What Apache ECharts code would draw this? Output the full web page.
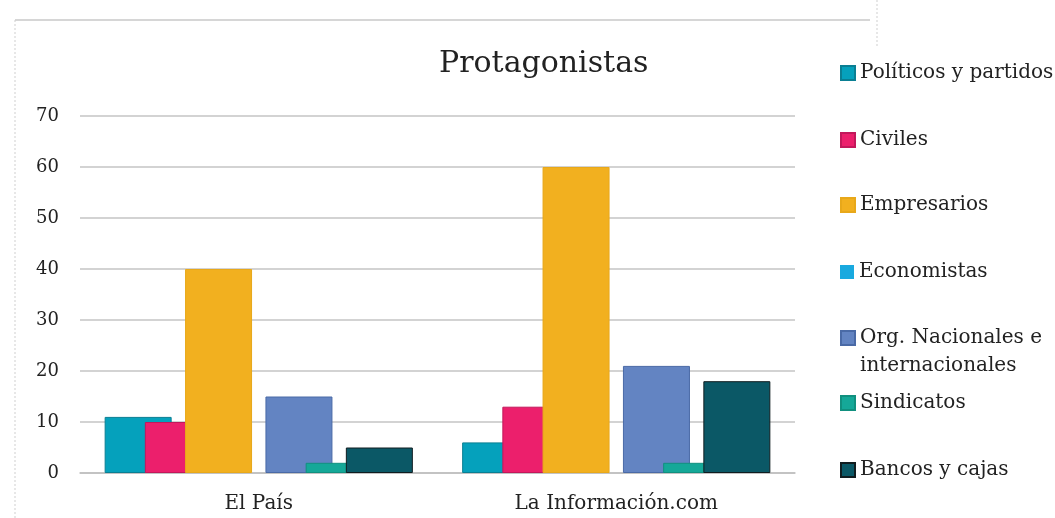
<!DOCTYPE html>
<html>
<head>
<meta charset="utf-8">
<script src="https://cdn.jsdelivr.net/npm/echarts@6/dist/echarts.min.js"></script>
<style>
  html, body { margin: 0; padding: 0; background: #fff; }
  #chart { width: 1055px; height: 518px; }
</style>
</head>
<body>
<div id="chart"></div>
<script>
var categories = ['El País', 'La Información.com'];
var seriesNames = ['Políticos y partidos', 'Civiles', 'Empresarios', 'Economistas',
  'Org. Nacionales e internacionales', 'Sindicatos', 'Bancos y cajas'];
var politicos = [11, 6];
var civiles = [10, 13];
var empresarios = [40, 60];
var economistas = [0, 0];
var organizaciones = [15, 21];
var sindicatos = [2, 2];
var bancos = [5, 18];

var colors = ['#05a1bc', '#ec1f6c', '#f2b01f', '#19a9df', '#6384c2', '#15a898', '#0b5866'];
var borders = ['#0a7f93', '#c2185b', '#e8a81a', '#19a9df', '#4a6aa6', '#11907f', '#111d20'];
var legendTops = [59, 126, 191, 258, 296, 389, 456];

var font = 'DejaVu Serif';
var chartDom = document.getElementById('chart');
var myChart = echarts.init(chartDom);
var option;

var values = [politicos, civiles, empresarios, economistas, organizaciones, sindicatos, bancos];

var series = seriesNames.map(function (name, i) {
  return {
    name: name,
    type: 'bar',
    data: values[i],
    barWidth: 67,
    barGap: '-40%',
    itemStyle: {
      color: colors[i],
      borderColor: borders[i],
      borderWidth: values[i].every(function (v) { return v === 0; }) ? 0 : 1
    }
  };
});

// one legend per item so the spacing follows the picture
var legends = seriesNames.map(function (name, i) {
  var twoLines = name.indexOf('Org.') === 0;
  return {
    data: [name],
    left: 840,
    top: legendTops[i],
    padding: 0,
    icon: 'rect',
    itemWidth: 14,
    itemHeight: 14,
    selectedMode: false,
    formatter: function (n) {
      if (twoLines) {
        // empty first line keeps the icon next to the first text line
        return '{t| }\n{t|Org. Nacionales e}\n{t|internacionales}';
      }
      return n;
    },
    textStyle: {
      fontFamily: font,
      fontSize: 20,
      color: '#222',
      lineHeight: 28,
      rich: {
        t: {
          fontFamily: font,
          fontSize: 20,
          color: '#222',
          lineHeight: 28
        }
      }
    }
  };
});

option = {
  animation: false,
  title: {
    text: 'Protagonistas',
    left: 439,
    top: 49,
    padding: 0,
    textStyle: {
      fontFamily: font,
      fontSize: 30,
      fontWeight: 'normal',
      color: '#222'
    }
  },
  legend: legends,
  grid: {
    left: 80,
    right: 260,
    top: 116,
    bottom: 45
  },
  xAxis: {
    type: 'category',
    data: categories,
    axisTick: { show: false },
    axisLine: { lineStyle: { color: '#bfbfbf', width: 1.5 } },
    axisLabel: {
      fontFamily: font,
      fontSize: 20,
      color: '#222',
      margin: 21
    }
  },
  yAxis: {
    type: 'value',
    min: 0,
    max: 70,
    interval: 10,
    axisLine: { show: false },
    axisTick: { show: false },
    axisLabel: {
      fontFamily: font,
      fontSize: 18,
      color: '#222',
      margin: 21
    },
    splitLine: { lineStyle: { color: '#c4c4c4', width: 1.5 } }
  },
  graphic: [
    {
      type: 'line',
      shape: { x1: 15, y1: 20, x2: 870, y2: 20 },
      style: { stroke: '#d6d6d6', lineWidth: 2 }
    },
    {
      type: 'line',
      shape: { x1: 15, y1: 20, x2: 15, y2: 518 },
      style: { stroke: '#cfcfcf', lineWidth: 1, lineDash: [2, 2] }
    },
    {
      type: 'line',
      shape: { x1: 877, y1: 0, x2: 877, y2: 46 },
      style: { stroke: '#cfcfcf', lineWidth: 1, lineDash: [2, 2] }
    }
  ],
  series: series
};

option && myChart.setOption(option);
</script>
</body>
</html>
